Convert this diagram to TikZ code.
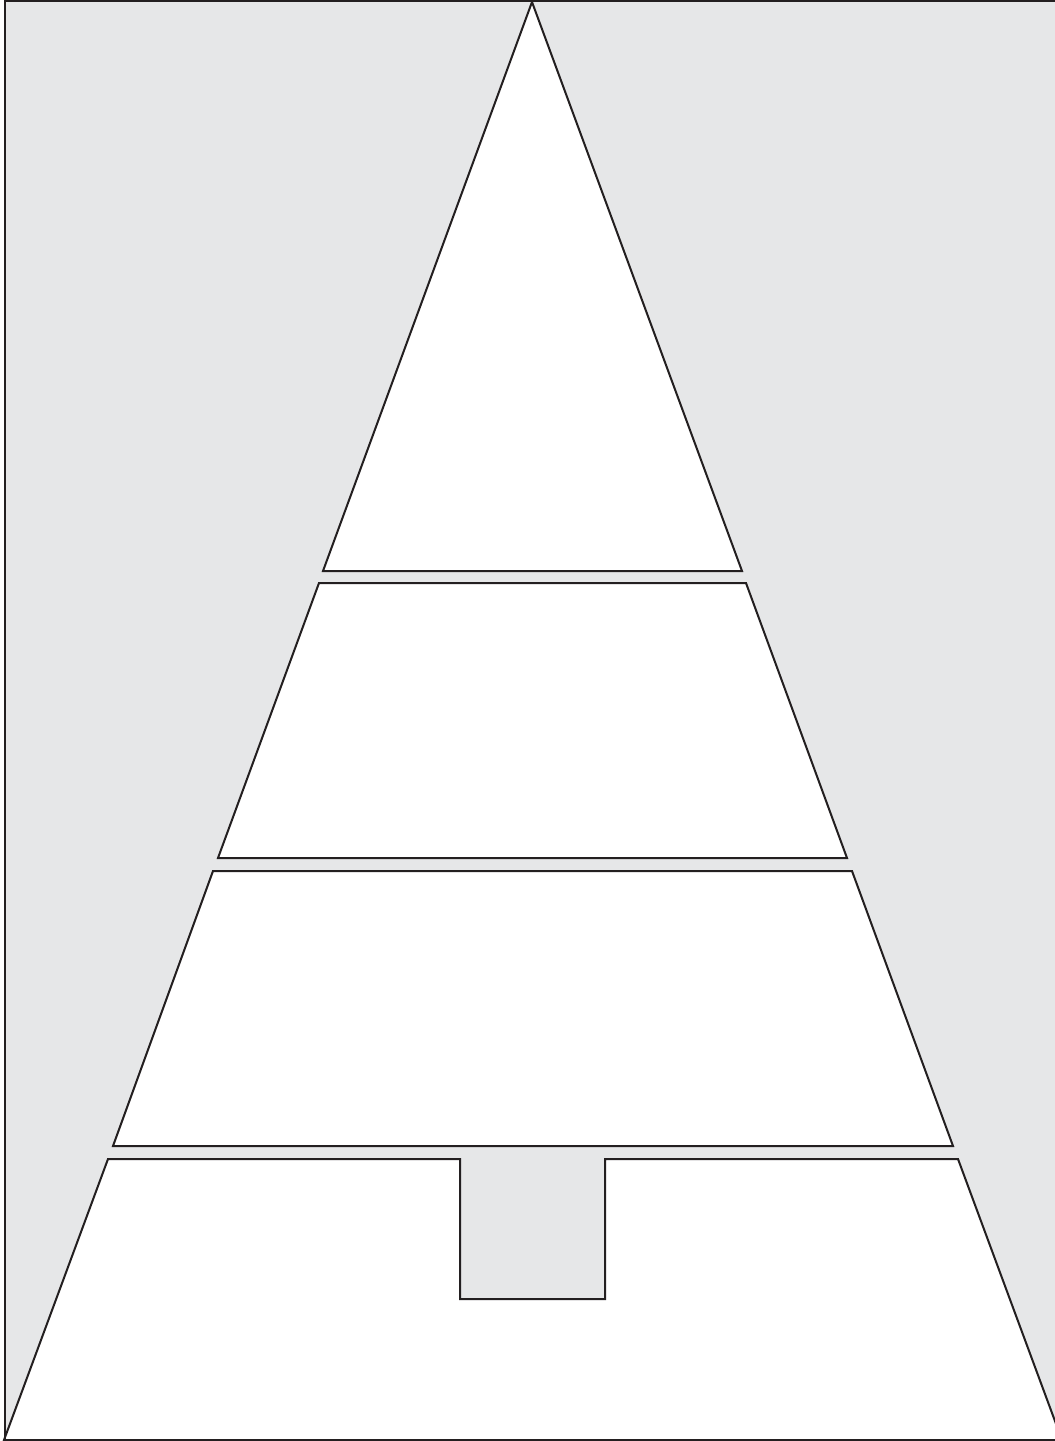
\documentclass[tikz,border=0pt]{standalone}
\definecolor{bg}{HTML}{E6E7E8}
\definecolor{ink}{HTML}{231F20}
\begin{document}
\begin{tikzpicture}[x=1pt,y=-1pt,
  band/.style={draw=ink,line width=2pt,fill=white,line join=miter}]
\useasboundingbox (0,0) rectangle (1055,1441);
\clip (0,0) rectangle (1055,1441);
\fill[bg] (5,1) rectangle (1060,1440);
% top triangle
\draw[band] (532,2) -- (742,571) -- (323,571) -- cycle;
% second band
\draw[band] (319,583) -- (746,583) -- (847,858) -- (218,858) -- cycle;
% third band
\draw[band] (213,871) -- (852,871) -- (953,1146) -- (113,1146) -- cycle;
% bottom band with trunk notch
\draw[band] (108,1159) -- (460,1159) -- (460,1299) -- (605,1299) -- (605,1159) -- (958,1159) -- (1062,1440) -- (4,1440) -- cycle;
% frame
\draw[ink,line width=2.5pt] (5,1) rectangle (1060,1440);
\end{tikzpicture}
\end{document}
